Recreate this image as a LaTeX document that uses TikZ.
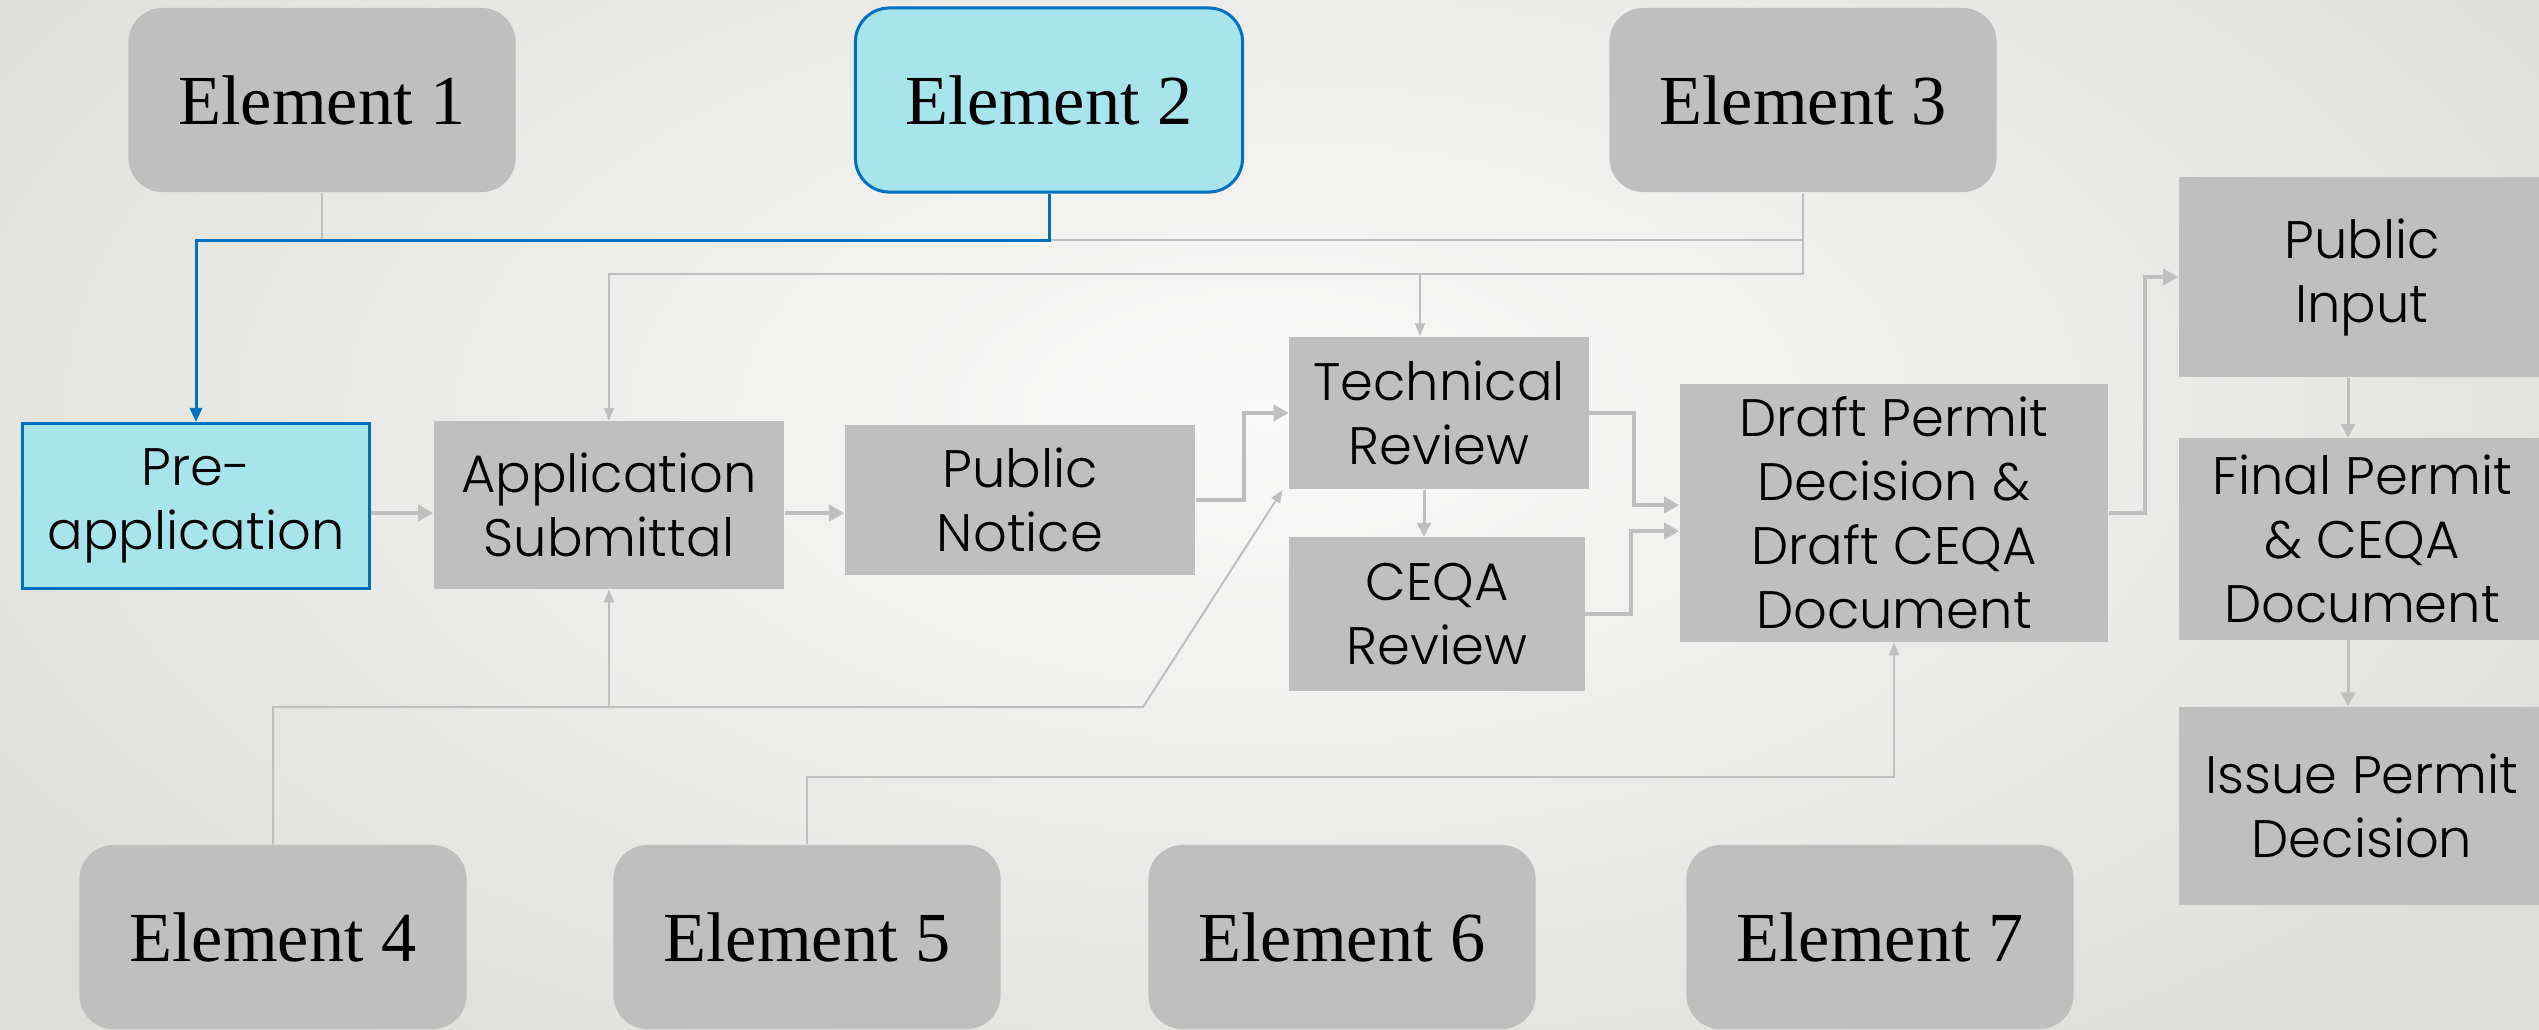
\documentclass[tikz,border=0pt]{standalone}
\usepackage{fontspec}
\usepackage{tikz}
\usetikzlibrary{arrows.meta}
\newfontfamily\elemfont{Liberation Serif}
\newfontfamily\stagefont{Poppins}[UprightFont=* Light]
\definecolor{boxgray}{RGB}{191,191,191}
\definecolor{hiblue}{RGB}{168,228,236}
\definecolor{linkblue}{RGB}{0,112,192}
\definecolor{bginner}{RGB}{250,250,250}
\definecolor{bgouter}{RGB}{222,222,218}

\begin{document}
\begin{tikzpicture}%
        [x=0.01cm, y=-0.01cm,
        element/.style={rounded corners=0.34cm, fill=boxgray, inner sep=0pt,
            minimum width=3.87cm, minimum height=1.84cm,
            font=\elemfont\fontsize{20}{24}\selectfont},
        current/.style={fill=hiblue, draw=linkblue, line width=0.03cm},
        stage/.style={fill=boxgray, inner sep=0pt, align=center,
            font=\stagefont\fontsize{15}{18.2}\selectfont},
        flow/.style={draw=boxgray, line width=0.04cm, -{Triangle[length=0.15cm,width=0.16cm]}},
        drop/.style={draw=boxgray, line width=0.03cm, -{Triangle[length=0.14cm,width=0.14cm]}},
        feed/.style={draw=boxgray, line width=0.02cm},
        feedarrow/.style={feed, -{Triangle[length=0.13cm,width=0.1cm]}},
        bluearrow/.style={draw=linkblue, line width=0.03cm, -{Triangle[length=0.14cm,width=0.12cm]}}]
    %
    %% Page and background
    \useasboundingbox (0,0) rectangle (2539,1029);
    \clip (0,0) rectangle (2539,1029);
    \shade[inner color=bginner, outer color=bgouter] (-300,-400) rectangle (2839,1229);
    %
    %% Elements
    %%
    \node[element] (el1) at (322,100) {Element 1};
    \node[element, current] (el2) at (1049,100) {Element 2};
    \node[element] (el3) at (1803,100) {Element 3};
    \node[element] (el4) at (273,937) {Element 4};
    \node[element] (el5) at (807,937) {Element 5};
    \node[element] (el6) at (1342,937) {Element 6};
    \node[element] (el7) at (1880,937) {Element 7};
    %
    %% Permit stages
    %%
    \node[stage, current, minimum width=3.47cm, minimum height=1.65cm] (preapp) at (196,506) {Pre-\\application};
    \node[stage, minimum width=3.50cm, minimum height=1.67cm] (appsub) at (609,505) {Application\\Submittal};
    \node[stage, minimum width=3.50cm, minimum height=1.49cm] (pubnotice) at (1020,500) {Public\\Notice};
    \node[stage, minimum width=2.99cm, minimum height=1.52cm] (techrev) at (1439,413) {Technical\\Review};
    \node[stage, minimum width=2.95cm, minimum height=1.53cm] (ceqarev) at (1437,614) {CEQA\\Review};
    \node[stage, minimum width=4.28cm, minimum height=2.57cm] (draft) at (1894,513) {Draft Permit\\Decision \&\\Draft CEQA\\Document};
    \node[stage, minimum width=3.66cm, minimum height=2.00cm] (pubinput) at (2362,277) {Public\\Input};
    \node[stage, minimum width=3.66cm, minimum height=2.01cm] (finalpermit) at (2362,539) {Final Permit\\\& CEQA\\Document};
    \node[stage, minimum width=3.66cm, minimum height=1.98cm] (issue) at (2362,806) {Issue Permit\\Decision};
    %
    %% Bus lines
    %%
    \coordinate (topbus) at (0,240);
    \coordinate (midbus) at (0,274);
    \coordinate (lowbus) at (1143,707);
    \coordinate (basebus) at (0,777);
    \coordinate (trin) at ([xshift=-0.19cm]techrev.north);
    \coordinate (trout) at ([xshift=-0.15cm]techrev.south);
    \coordinate (trsw) at ([xshift=-0.06cm]techrev.south west);
    \coordinate (pin) at ([xshift=-0.14cm]pubinput.south);
    \coordinate (fin) at ([xshift=-0.14cm]finalpermit.south);
    \coordinate (pre) at ([yshift=-0.07cm]preapp.east);
    \coordinate (sub) at ([yshift=-0.08cm]appsub.east);
    %
    %% Element links
    %%
    \draw[feed] (el1.south) -- (el1.south |- topbus);
    \draw[feed] (el3.south |- topbus) -- (el2.south |- topbus);
    \draw[feedarrow] (el3.south) -- (el3.south |- midbus) -| (appsub.north);
    \draw[feedarrow] (trin |- midbus) -- (trin);
    \draw[bluearrow] (el2.south) -- (el2.south |- topbus) -| (preapp.north);
    \draw[feedarrow] (el4.north) |- (lowbus) -- (trsw);
    \draw[feedarrow] (appsub.south |- lowbus) -- (appsub.south);
    \draw[feedarrow] (el5.north) -- (el5.north |- basebus) -| (draft.south);
    %
    %% Process flow
    %%
    \draw[flow] (pre) -- (pre -| appsub.west);
    \draw[flow] (sub) -- (sub -| pubnotice.west);
    \draw[flow] (pubnotice.east) -- ++(48,0) |- (techrev.west);
    \draw[flow] (techrev.east) -- ++(45,0) |- ([yshift=0.08cm]draft.west);
    \draw[flow] (ceqarev.east) -- ++(46,0) |- ([yshift=-0.18cm]draft.west);
    \draw[flow] (draft.east) -- ++(36,0) |- (pubinput.west);
    \draw[drop] (trout) -- (trout |- ceqarev.north);
    \draw[drop] (pin) -- (pin |- finalpermit.north);
    \draw[drop] (fin) -- (fin |- issue.north);
    %%
\end{tikzpicture}
\end{document}
